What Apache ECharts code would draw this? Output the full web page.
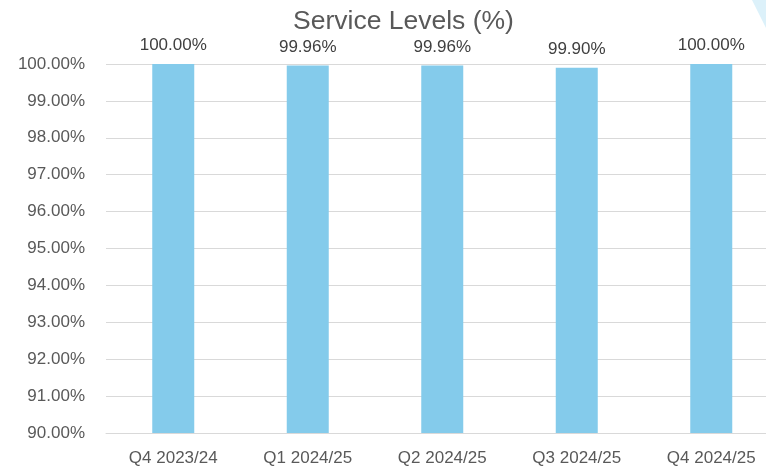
<!DOCTYPE html>
<html><head><meta charset="utf-8">
<script src="https://cdn.jsdelivr.net/npm/echarts@6/dist/echarts.min.js"></script>
<style>html,body{margin:0;padding:0;background:#fff}#c{width:766px;height:473px}</style>
</head><body><div id="c"></div>
<script>
const categories = ["Q4 2023/24","Q1 2024/25","Q2 2024/25","Q3 2024/25","Q4 2024/25"];
const serviceLevels = [100.00, 99.96, 99.96, 99.90, 100.00];
const yMin = 90, yMax = 100, yStep = 1;
const FONT = "'Liberation Sans',Arial,sans-serif";
// plot area extends slightly past the right edge of the picture
const xMin = -0.5, xMax = 4.407;
const chart = echarts.init(document.getElementById('c'));
chart.setOption({
  animation:false,
  title:{text:'Service Levels (%)',left:288,top:3,textStyle:{fontFamily:FONT,fontSize:26.5,fontWeight:'normal',color:'#595959'}},
  graphic:[{type:'polygon',shape:{points:[[752,0],[766,0],[766,28]]},style:{fill:'#dcf1fa'}}],
  grid:{left:106,right:0,top:64,bottom:40},
  xAxis:{type:'value',min:xMin,max:xMax,splitLine:{show:false},
    axisTick:{show:false},
    axisLine:{onZero:false,lineStyle:{color:'#d9d9d9',width:1}},
    axisLabel:{fontFamily:FONT,fontSize:17,color:'#595959',margin:17,
      customValues:categories.map((c,i)=>i),formatter:v=>categories[Math.round(v)]||''}},
  yAxis:{type:'value',min:yMin,max:yMax,interval:yStep,
    axisLabel:{fontFamily:FONT,fontSize:17,color:'#595959',margin:21,formatter:v=>v.toFixed(2)+'%'},
    splitLine:{lineStyle:{color:'#d9d9d9',width:1}},axisLine:{show:false},axisTick:{show:false}},
  series:[{type:'bar',data:serviceLevels.map((v,i)=>[i,v]),barWidth:42,itemStyle:{color:'#84cbeb'},
    label:{show:true,position:'top',distance:10,fontFamily:FONT,fontSize:17,color:'#404040',formatter:p=>p.value[1].toFixed(2)+'%'}}]
});
</script></body></html>
